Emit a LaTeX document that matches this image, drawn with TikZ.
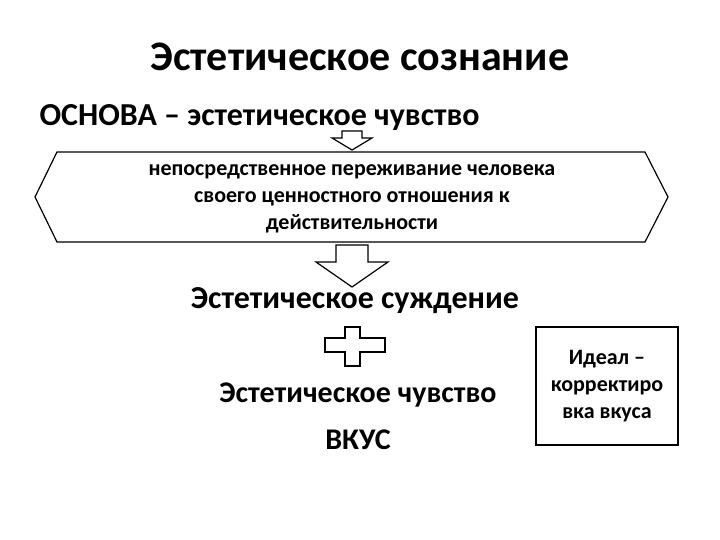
\documentclass[tikz,border=0pt]{standalone}
\usepackage{fontspec}
\setmainfont{Carlito}
\begin{document}
\begin{tikzpicture}[x=1pt,y=-1pt,
  outl/.style={draw=black,line width=1.2pt,fill=white},
  big/.style={font=\bfseries\fontsize{32}{36}\selectfont},
  mid/.style={font=\bfseries\fontsize{30}{34}\selectfont},
  sm/.style={font=\bfseries\fontsize{22}{27}\selectfont,align=center}]
\useasboundingbox (0,0) rectangle (720,540);
\node[font=\bfseries\fontsize{42}{46}\selectfont] (title) at (360,57) {Эстетическое сознание};
\node[big,anchor=west] (osn) at (36,118) {ОСНОВА – эстетическое чувство};
\draw[outl] (342,131)--(362,131)--(362,138)--(372,138)--(352,150)--(332,138)--(342,138)--cycle;
\draw[outl] (35,197)--(57,152)--(645,152)--(668,197)--(645,242)--(57,242)--cycle;
\node[sm] (def) at (352,199) {непосредственное переживание человека\\своего ценностного отношения к\\действительности};
\draw[outl] (336,245)--(368,245)--(368,262)--(388,262)--(352,287)--(316,262)--(336,262)--cycle;
\node[big] (jud) at (355,301) {Эстетическое суждение};
\draw[outl] (345,327)--(360,327)--(360,338)--(385,338)--(385,352)--(360,352)--(360,366)--(345,366)--(345,352)--(325,352)--(325,338)--(345,338)--cycle;
\node[mid] (feel) at (358,395) {Эстетическое чувство};
\node[mid] (taste) at (358,440) {ВКУС};
\node[draw,line width=1.2pt,minimum width=142pt,minimum height=118pt,sm,inner sep=0pt] (ideal) at (607,386) {Идеал –\\корректиро\\вка вкуса};
\end{tikzpicture}
\end{document}
